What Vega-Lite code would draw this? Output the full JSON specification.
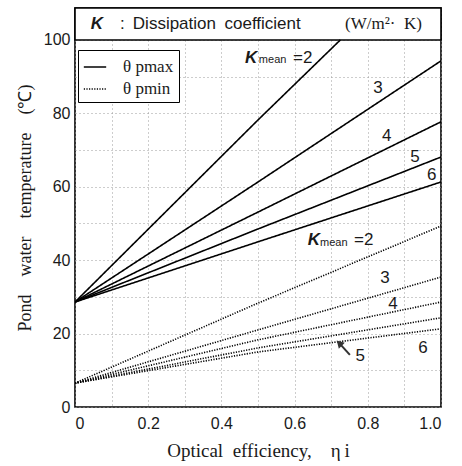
{
  "$schema": "https://vega.github.io/schema/vega-lite/v6.json",
  "width": 366,
  "height": 399,
  "autosize": {"type": "none"},
  "padding": {"left": 75, "top": 8, "right": 21, "bottom": 59},
  "background": "white",
  "config": {
    "view": {"stroke": "black", "strokeWidth": 1.6},
    "axis": {
      "domain": false,
      "ticks": false,
      "labelFont": "Liberation Sans",
      "labelFontSize": 16,
      "labelColor": "#1a1a1a",
      "titleFont": "Liberation Serif",
      "titleFontSize": 18,
      "titleFontWeight": "normal",
      "titleColor": "#1a1a1a",
      "gridColor": "#9a9a9a",
      "gridDash": [1, 3],
      "gridWidth": 1
    }
  },
  "datasets": {
    "curves": [
      {"eta": 0, "T": 28.6, "K": 2, "series": "θ pmax"},
      {"eta": 0.5, "T": 78.2, "K": 2, "series": "θ pmax"},
      {"eta": 0.725, "T": 100, "K": 2, "series": "θ pmax"},
      {"eta": 0, "T": 28.6, "K": 3, "series": "θ pmax"},
      {"eta": 0.5, "T": 61.3, "K": 3, "series": "θ pmax"},
      {"eta": 1.0, "T": 94.3, "K": 3, "series": "θ pmax"},
      {"eta": 0, "T": 28.6, "K": 4, "series": "θ pmax"},
      {"eta": 0.5, "T": 53.1, "K": 4, "series": "θ pmax"},
      {"eta": 1.0, "T": 77.7, "K": 4, "series": "θ pmax"},
      {"eta": 0, "T": 28.6, "K": 5, "series": "θ pmax"},
      {"eta": 0.5, "T": 48.5, "K": 5, "series": "θ pmax"},
      {"eta": 1.0, "T": 68.1, "K": 5, "series": "θ pmax"},
      {"eta": 0, "T": 28.6, "K": 6, "series": "θ pmax"},
      {"eta": 0.5, "T": 45.0, "K": 6, "series": "θ pmax"},
      {"eta": 1.0, "T": 61.3, "K": 6, "series": "θ pmax"},
      {"eta": 0, "T": 6.5, "K": 2, "series": "θ pmin"},
      {"eta": 0.5, "T": 28.3, "K": 2, "series": "θ pmin"},
      {"eta": 1.0, "T": 49.3, "K": 2, "series": "θ pmin"},
      {"eta": 0, "T": 6.5, "K": 3, "series": "θ pmin"},
      {"eta": 0.5, "T": 21.0, "K": 3, "series": "θ pmin"},
      {"eta": 1.0, "T": 35.4, "K": 3, "series": "θ pmin"},
      {"eta": 0, "T": 6.5, "K": 4, "series": "θ pmin"},
      {"eta": 0.5, "T": 18.3, "K": 4, "series": "θ pmin"},
      {"eta": 1.0, "T": 28.6, "K": 4, "series": "θ pmin"},
      {"eta": 0, "T": 6.5, "K": 5, "series": "θ pmin"},
      {"eta": 0.5, "T": 16.1, "K": 5, "series": "θ pmin"},
      {"eta": 1.0, "T": 24.3, "K": 5, "series": "θ pmin"},
      {"eta": 0, "T": 6.5, "K": 6, "series": "θ pmin"},
      {"eta": 0.5, "T": 15.0, "K": 6, "series": "θ pmin"},
      {"eta": 1.0, "T": 21.3, "K": 6, "series": "θ pmin"}
    ],
    "kLabels": [
      {"eta": 0.481, "T": 95.1, "label": "K"},
      {"eta": 0.653, "T": 45.5, "label": "K"},
      {"eta": 0.060, "T": 104.4, "label": "K"}
    ],
    "meanLabels": [
      {"eta": 0.540, "T": 94.4, "label": "mean"},
      {"eta": 0.707, "T": 44.8, "label": "mean"}
    ],
    "numLabels": [
      {"eta": 0.622, "T": 95.1, "label": "=2"},
      {"eta": 0.828, "T": 86.9, "label": "3"},
      {"eta": 0.852, "T": 73.8, "label": "4"},
      {"eta": 0.929, "T": 68.1, "label": "5"},
      {"eta": 0.975, "T": 63.2, "label": "6"},
      {"eta": 0.789, "T": 45.5, "label": "=2"},
      {"eta": 0.847, "T": 35.1, "label": "3"},
      {"eta": 0.869, "T": 28.1, "label": "4"},
      {"eta": 0.779, "T": 13.9, "label": "5"},
      {"eta": 0.951, "T": 16.1, "label": "6"}
    ],
    "header": [{"x0": 0, "x1": 1, "y0": 100, "y1": 108.7}],
    "headerSans": [
      {"eta": 0.123, "T": 104.4, "label": ":"},
      {"eta": 0.158, "T": 104.4, "label": "Dissipation\u2002coefficient"}
    ],
    "headerUnit": [{"eta": 0.738, "T": 104.4, "label": "(W/m²·\u2002K)"}],
    "arrow": [{"eta": 0.751, "T": 14.2, "eta2": 0.722, "T2": 17.4}],
    "arrowHead": [{"eta": 0.722, "T": 17.4}]
  },
  "encoding": {
    "x": {
      "type": "quantitative",
      "scale": {"domain": [0, 1], "nice": false, "zero": false},
      "axis": {
        "values": [0, 0.1, 0.2, 0.3, 0.4, 0.5, 0.6, 0.7, 0.8, 0.9, 1.0],
        "labelExpr": "datum.value == 0 ? '0' : (round(datum.value * 10) % 2 == 1 ? '' : format(datum.value, '.1f'))",
        "labelPadding": 8,
        "title": "Optical\u2002efficiency,\u2003η\u2009i",
        "titleFontSize": 19,
        "titlePadding": 10,
        "grid": true
      }
    },
    "y": {
      "type": "quantitative",
      "scale": {"domain": [0, 108.7], "nice": false, "zero": false},
      "axis": {
        "values": [0, 10, 20, 30, 40, 50, 60, 70, 80, 90, 100],
        "labelExpr": "round(datum.value) % 20 == 0 ? format(datum.value, 'd') : ''",
        "labelPadding": 5,
        "title": "Pond\u2003water\u2003temperature\u2003(℃)",
        "titlePadding": 9,
        "grid": true
      }
    }
  },
  "layer": [
    {
      "data": {"name": "header"},
      "mark": {"type": "rect", "fill": "white", "stroke": "black", "strokeWidth": 1.6},
      "encoding": {
        "x": {"field": "x0", "type": "quantitative"},
        "x2": {"field": "x1"},
        "y": {"field": "y0", "type": "quantitative"},
        "y2": {"field": "y1"}
      }
    },
    {
      "data": {"name": "curves"},
      "mark": {"type": "line", "color": "black", "strokeWidth": 1.6, "clip": true},
      "encoding": {
        "x": {"field": "eta", "type": "quantitative"},
        "y": {"field": "T", "type": "quantitative"},
        "detail": {"field": "K"},
        "strokeDash": {
          "field": "series",
          "type": "nominal",
          "scale": {"domain": ["θ pmax", "θ pmin"], "range": [[1, 0], [1.2, 1.4]]},
          "legend": {
            "title": null,
            "orient": "none",
            "legendX": 3,
            "legendY": 42,
            "direction": "vertical",
            "fillColor": "white",
            "strokeColor": "black",
            "padding": 5,
            "rowPadding": 2,
            "symbolType": "stroke",
            "symbolSize": 500,
            "symbolStrokeWidth": 1.6,
            "symbolStrokeColor": "black",
            "labelFont": "Liberation Serif",
            "labelFontSize": 17,
            "labelColor": "#1a1a1a",
            "labelOffset": 16
          }
        }
      }
    },
    {
      "data": {"name": "kLabels"},
      "mark": {"type": "text", "font": "Liberation Sans", "fontSize": 17, "fontWeight": "bold", "fontStyle": "italic", "color": "#1a1a1a", "align": "center", "baseline": "middle"},
      "encoding": {
        "x": {"field": "eta", "type": "quantitative"},
        "y": {"field": "T", "type": "quantitative"},
        "text": {"field": "label"}
      }
    },
    {
      "data": {"name": "meanLabels"},
      "mark": {"type": "text", "font": "Liberation Sans", "fontSize": 11, "color": "#1a1a1a", "align": "center", "baseline": "middle"},
      "encoding": {
        "x": {"field": "eta", "type": "quantitative"},
        "y": {"field": "T", "type": "quantitative"},
        "text": {"field": "label"}
      }
    },
    {
      "data": {"name": "numLabels"},
      "mark": {"type": "text", "font": "Liberation Sans", "fontSize": 17, "color": "#1a1a1a", "align": "center", "baseline": "middle"},
      "encoding": {
        "x": {"field": "eta", "type": "quantitative"},
        "y": {"field": "T", "type": "quantitative"},
        "text": {"field": "label"}
      }
    },
    {
      "data": {"name": "headerSans"},
      "mark": {"type": "text", "font": "Liberation Sans", "fontSize": 17, "color": "#1a1a1a", "align": "left", "baseline": "middle"},
      "encoding": {
        "x": {"field": "eta", "type": "quantitative"},
        "y": {"field": "T", "type": "quantitative"},
        "text": {"field": "label"}
      }
    },
    {
      "data": {"name": "headerUnit"},
      "mark": {"type": "text", "font": "Liberation Serif", "fontSize": 17, "color": "#1a1a1a", "align": "left", "baseline": "middle"},
      "encoding": {
        "x": {"field": "eta", "type": "quantitative"},
        "y": {"field": "T", "type": "quantitative"},
        "text": {"field": "label"}
      }
    },
    {
      "data": {"name": "arrow"},
      "mark": {"type": "rule", "color": "#333", "strokeWidth": 2},
      "encoding": {
        "x": {"field": "eta", "type": "quantitative"},
        "y": {"field": "T", "type": "quantitative"},
        "x2": {"field": "eta2"},
        "y2": {"field": "T2"}
      }
    },
    {
      "data": {"name": "arrowHead"},
      "mark": {"type": "point", "shape": "triangle-up", "filled": true, "color": "#333", "size": 70, "angle": -45, "opacity": 1},
      "encoding": {
        "x": {"field": "eta", "type": "quantitative"},
        "y": {"field": "T", "type": "quantitative"}
      }
    }
  ]
}
